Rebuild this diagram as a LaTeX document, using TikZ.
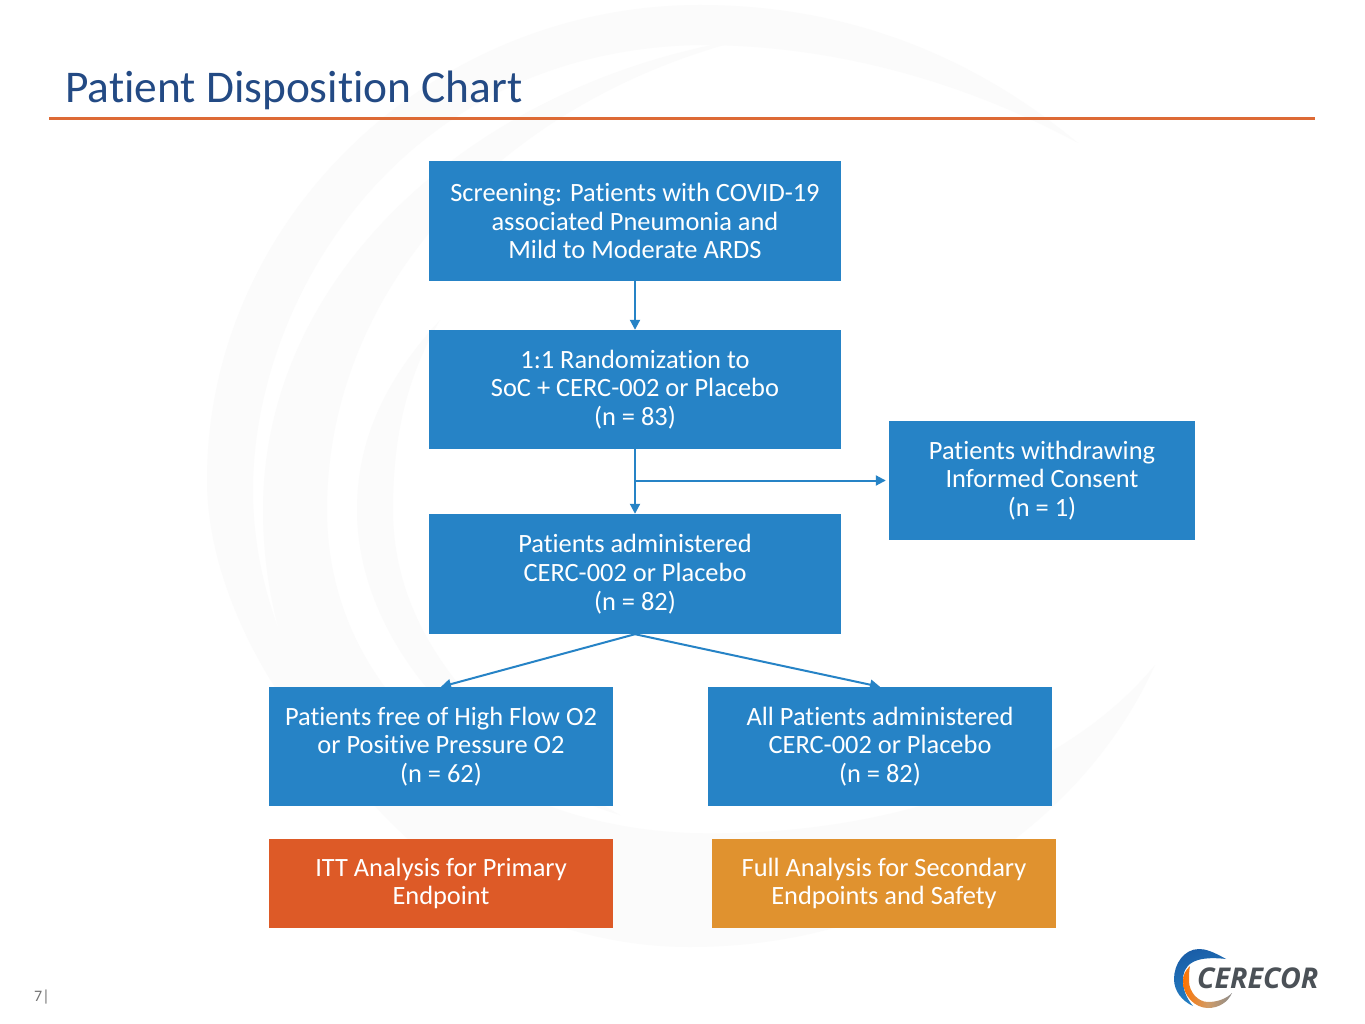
\documentclass[tikz,border=0pt]{standalone}
\usepackage{fontspec}
\setmainfont{Carlito}[Ligatures=CommonOff]
\newfontfamily\logofont{Open Sans}
\usetikzlibrary{arrows.meta,shadings}
\definecolor{boxblue}{HTML}{2683C6}
\definecolor{boxred}{HTML}{DD5A27}
\definecolor{boxamber}{HTML}{E0922F}
\definecolor{titleblue}{HTML}{234A84}
\definecolor{rulered}{HTML}{DD6A35}
\definecolor{swirl}{HTML}{FBFBFB}
\definecolor{logoblue}{HTML}{1A5EA8}
\definecolor{logogray}{HTML}{4B5157}
\begin{document}
\begin{tikzpicture}[x=1pt,y=-1pt,
		font=\fontsize{26.4}{28.7}\selectfont,
		box/.style={rectangle,fill=boxblue,text=white,align=center,inner sep=0pt},
		flow/.style={draw=boxblue,line width=2pt,-{Triangle[length=10pt,width=10pt]}}]
		\useasboundingbox[fill=white] (0,0) rectangle (1365,1024);
		% watermark
		\fill[swirl] (1078,143) .. controls (960,45) and (830,5) .. (700,5)
			.. controls (430,5) and (207,220) .. (207,480)
			.. controls (207,600) and (290,740) .. (395,820)
			.. controls (320,730) and (253,620) .. (253,490)
			.. controls (253,300) and (400,50) .. (700,45)
			.. controls (840,45) and (970,85) .. (1078,143) -- cycle;
		\fill[swirl] (750,38) .. controls (480,80) and (263,270) .. (263,510)
			.. controls (263,760) and (460,947) .. (690,947)
			.. controls (900,947) and (1080,830) .. (1155,665)
			.. controls (1060,780) and (880,838) .. (690,833)
			.. controls (480,825) and (327,690) .. (327,510)
			.. controls (327,290) and (500,100) .. (750,38) -- cycle;
		\fill[swirl] (440,320) .. controls (385,380) and (357,440) .. (357,510)
			.. controls (357,640) and (470,770) .. (620,815)
			.. controls (490,740) and (393,640) .. (393,510)
			.. controls (393,440) and (405,380) .. (440,320) -- cycle;
		% title
		\node[anchor=base west,inner sep=0pt,text=titleblue,font=\fontsize{45.4}{48}\selectfont] (title) at (65,102.5) {Patient Disposition Chart};
		\draw[rulered,line width=3pt] (49,118.5) -- (1315,118.5);
		% boxes
		\foreach \N/\X/\Y/\W/\H/\T in
		{screen/635/221/412/120/{Screening: Patients with COVID-19\\associated Pneumonia and\\Mild to Moderate ARDS},
		rand/635/389.5/412/119/{1:1 Randomization to\\SoC + CERC-002 or Placebo\\(n = 83)},
		admin/635/574/412/120/{Patients administered\\CERC-002 or Placebo\\(n = 82)},
		withdraw/1042/480.5/306/119/{Patients withdrawing\\Informed Consent\\(n = 1)},
		free/441/746.5/344/119/{Patients free of High Flow O2\\or Positive Pressure O2\\(n = 62)},
		all/880/746.5/344/119/{All Patients administered\\CERC-002 or Placebo\\(n = 82)}}
		{\node[box,minimum width=\W pt,minimum height=\H pt] (\N) at (\X,\Y) {\T};}
		\node[box,fill=boxred,minimum width=344pt,minimum height=89pt] (itt) at (441,883.5) {ITT Analysis for Primary\\Endpoint};
		\node[box,fill=boxamber,minimum width=344pt,minimum height=89pt] (full) at (884,883.5) {Full Analysis for Secondary\\Endpoints and Safety};
		% arrows
		\draw[flow] (screen) -- (rand);
		\draw[flow] (rand) -- (admin);
		\draw[flow,shorten >=3pt] (rand.south |- withdraw.west) -- (withdraw.west);
		\draw[flow] (admin.south) -- (free.north);
		\draw[flow] (admin.south) -- (all.north);
		% page number
		\node[anchor=base west,inner sep=0pt,text=black!55,font=\fontsize{16}{19}\selectfont] (page) at (34,1001) {7|};
		% logo
		\shade[top color=logoblue,bottom color=boxblue,shading angle=20]
			(1226,959) .. controls (1212,951) and (1205,949) .. (1199,949)
			.. controls (1184,949) and (1174,964) .. (1174,979)
			.. controls (1174,991) and (1182,1001) .. (1193,1006)
			.. controls (1186,998) and (1183,989) .. (1183,980)
			.. controls (1183,966) and (1192,955) .. (1226,959) -- cycle;
		\shade[left color=orange!90!red,right color=black!45,middle color=orange!70!black!60]
			(1190,966) .. controls (1185,971) and (1183,975) .. (1183,981)
			.. controls (1183,996) and (1195,1008) .. (1208,1008)
			.. controls (1219,1008) and (1228,1002) .. (1232,993)
			.. controls (1226,999) and (1217,1002) .. (1208,1002)
			.. controls (1198,1002) and (1189,992) .. (1189,981)
			.. controls (1189,976) and (1189,971) .. (1190,966) -- cycle;
		\node[anchor=base west,inner sep=0pt,text=logogray,font=\logofont\bfseries\itshape\fontsize{28.6}{34}\selectfont] (logo) at (1197,988) {CERECOR};
		\end{tikzpicture}
\end{document}
